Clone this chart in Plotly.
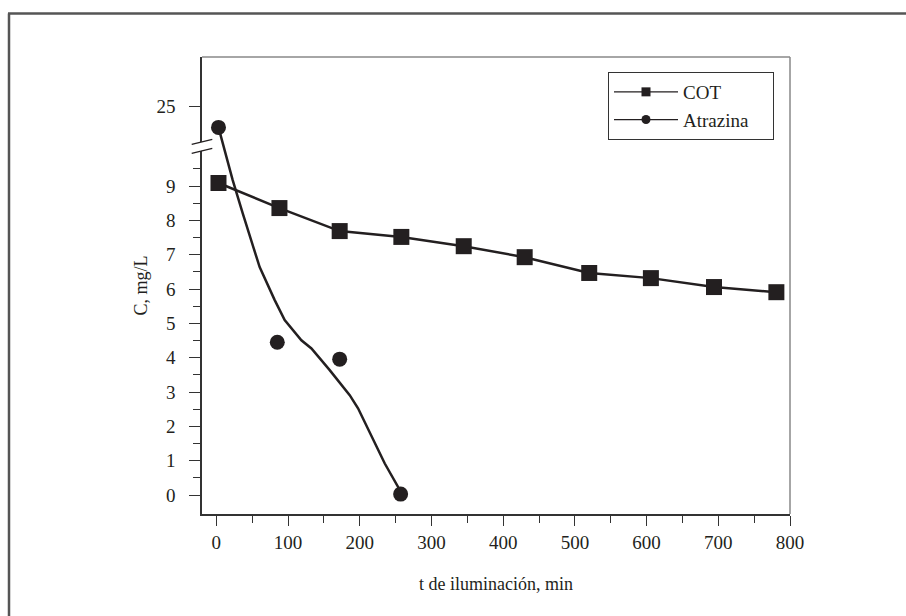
import plotly.graph_objects as go

# ---- data (real units, mg/L) ----
time_cot = [3, 88, 172, 258, 345, 430, 520, 606, 694, 781]
cot = [9.09, 8.36, 7.69, 7.52, 7.25, 6.93, 6.47, 6.32, 6.06, 5.91]

time_atz = [3, 85, 172, 257]
atz = [24.4, 4.45, 3.96, 0.03]

curve_t = [3, 22.7, 36.7, 49.3, 60.4, 81.4, 95.3, 118.6, 132.6, 158.1, 186.0,
           197.6, 214, 234.9, 255.8, 257]
curve_c = [24.4, 9.18, 8.21, 7.34, 6.64, 5.68, 5.10, 4.51, 4.27, 3.64, 2.91,
           2.53, 1.80, 0.92, 0.15, 0.03]

x_ticks = [0, 100, 200, 300, 400, 500, 600, 700, 800]
y_tick_values = [0, 1, 2, 3, 4, 5, 6, 7, 8, 9, 25]

# broken y axis: values above the break are shifted down
BREAK_AT = 15
BREAK_SHIFT = 13.69


def to_axis(v):
    return v if v < BREAK_AT else v - BREAK_SHIFT


INK = "#231f20"
FONT = "Liberation Serif"
PAD = "\u00a0" * 4

fig = go.Figure()

fig.add_trace(go.Scatter(
    x=time_cot, y=[to_axis(v) for v in cot], mode="lines+markers", name="COT",
    showlegend=False,
    line=dict(color=INK, width=2.5),
    marker=dict(symbol="square", size=16, color=INK),
))
fig.add_trace(go.Scatter(
    x=curve_t, y=[to_axis(v) for v in curve_c], mode="lines", showlegend=False,
    line=dict(color=INK, width=2.5),
))
fig.add_trace(go.Scatter(
    x=time_atz, y=[to_axis(v) for v in atz], mode="markers", showlegend=False,
    marker=dict(symbol="circle", size=15, color=INK),
))
# legend entries
fig.add_trace(go.Scatter(
    x=[None], y=[None], mode="lines+markers", name="COT",
    line=dict(color=INK, width=1.3),
    marker=dict(symbol="square", size=9, color=INK),
))
fig.add_trace(go.Scatter(
    x=[None], y=[None], mode="lines+markers", name="Atrazina" + PAD,
    line=dict(color=INK, width=1.3),
    marker=dict(symbol="circle", size=9, color=INK),
))

L, R, T, B = 202, 790, 57, 514
W, H = 906, 616


def px(xp):
    return (xp - L) / (R - L)


def py(yp):
    return (B - yp) / (B - T)


shapes = [
    # top and right frame of plot area
    dict(type="line", xref="paper", yref="paper", x0=0, x1=1, y0=1, y1=1,
         line=dict(color="#888888", width=1.5)),
    dict(type="line", xref="paper", yref="paper", x0=1, x1=1, y0=0, y1=1,
         line=dict(color="#888888", width=1.5)),
    # outer frame (left and top)
    dict(type="line", xref="paper", yref="paper", x0=px(9), x1=px(9),
         y0=py(W), y1=py(13.5), line=dict(color="#555555", width=2.5)),
    dict(type="line", xref="paper", yref="paper", x0=px(8), x1=px(W + 10),
         y0=py(13.5), y1=py(13.5), line=dict(color="#555555", width=2.5)),
    # axis break marks
    dict(type="path", xref="paper", yref="paper",
         path=f"M {px(191.7)},{py(144.3)} L {px(212.3)},{py(139.3)} "
              f"L {px(212.3)},{py(148.3)} L {px(191.7)},{py(153.3)} Z",
         fillcolor="white", line=dict(width=0)),
    dict(type="line", xref="paper", yref="paper", x0=px(191.7), x1=px(212.3),
         y0=py(144.3), y1=py(139.3), line=dict(color=INK, width=1.3)),
    dict(type="line", xref="paper", yref="paper", x0=px(191.7), x1=px(212.3),
         y0=py(153.3), y1=py(148.3), line=dict(color=INK, width=1.3)),
]

fig.update_layout(
    width=W, height=H,
    margin=dict(l=L, r=W - R, t=T, b=H - B),
    paper_bgcolor="white", plot_bgcolor="white",
    font=dict(family=FONT, color=INK, size=19),
    shapes=shapes,
    legend=dict(
        x=px(608), y=py(72), xanchor="left", yanchor="top",
        bordercolor="#333333", borderwidth=1, bgcolor="white",
        font=dict(family=FONT, size=19, color=INK),
        itemwidth=64, tracegroupgap=0,
    ),
    xaxis=dict(
        range=[-20, 800], tickmode="array", tickvals=x_ticks,
        ticktext=[str(v) for v in x_ticks],
        ticks="outside", ticklen=10, tickwidth=1.2, tickcolor="#333333",
        minor=dict(tickmode="array", tickvals=[50, 150, 250, 350, 450, 550, 650, 750],
                   ticks="outside", ticklen=7, tickwidth=1.2, tickcolor="#333333"),
        showgrid=False, zeroline=False, showline=True, linecolor="#333333",
        linewidth=1.5, tickfont=dict(family=FONT, size=19, color=INK),
        title=dict(text="t de iluminación, min", font=dict(family=FONT, size=18),
                   standoff=26),
    ),
    yaxis=dict(
        range=[-0.55, 12.76], tickmode="array",
        tickvals=[to_axis(v) for v in y_tick_values],
        ticktext=[str(v) for v in y_tick_values],
        ticks="outside", ticklen=11, tickwidth=1.2, tickcolor="#333333",
        minor=dict(tickmode="array", tickvals=[0.5 + i for i in range(10)],
                   ticks="outside", ticklen=7, tickwidth=1.2, tickcolor="#333333"),
        showgrid=False, zeroline=False, showline=True, linecolor="#333333",
        linewidth=1.5, ticklabelstandoff=10,
        tickfont=dict(family=FONT, size=19, color=INK),
        title=dict(text="C, mg/L", font=dict(family=FONT, size=18), standoff=4),
    ),
)

fig.write_html("out.html")
